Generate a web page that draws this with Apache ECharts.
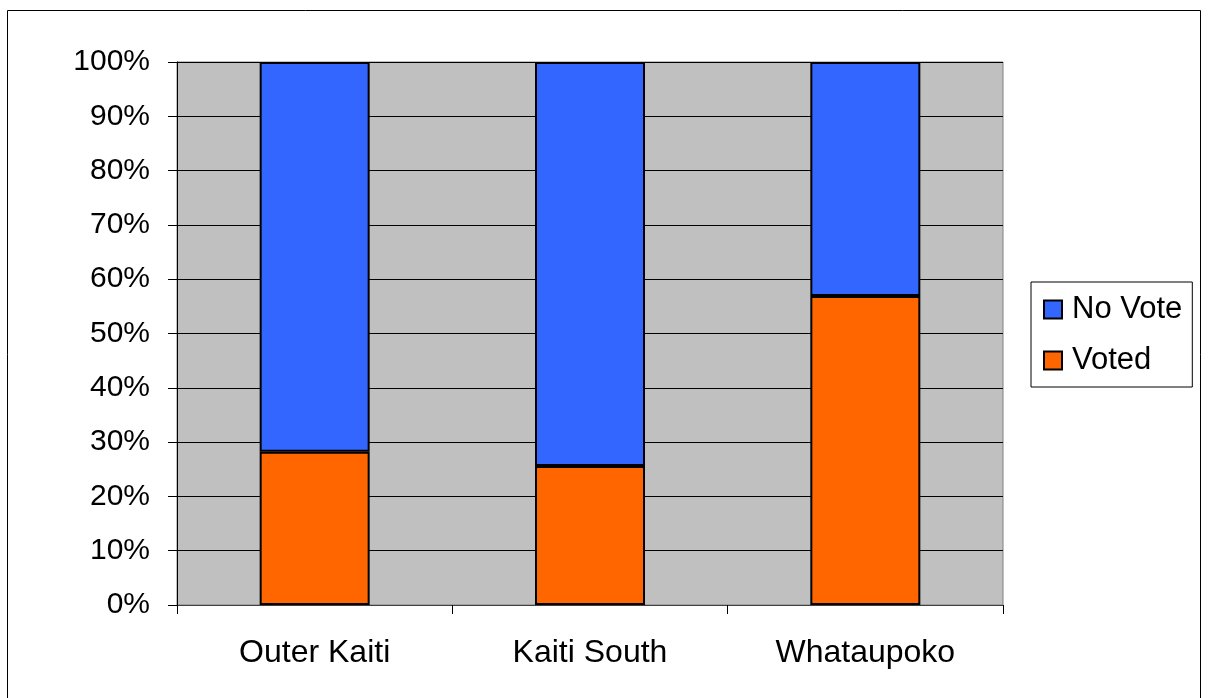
<!DOCTYPE html>
<html><head><meta charset="utf-8">
<script src="https://cdn.jsdelivr.net/npm/echarts@6/dist/echarts.min.js"></script>
<style>html,body{margin:0;padding:0;background:#fff}#c{width:1208px;height:698px}</style>
</head><body><div id="c"></div>
<script>
var categories = ['Outer Kaiti', 'Kaiti South', 'Whataupoko'];
var voted = [28.2, 25.6, 56.9];
var noVote = [71.8, 74.4, 43.1];
var yTicks = [0, 10, 20, 30, 40, 50, 60, 70, 80, 90, 100];

var chart = echarts.init(document.getElementById('c'), null, {renderer: 'canvas'});
var font = '"Liberation Sans", Arial, sans-serif';
chart.setOption({
  animation: false,
  backgroundColor: '#fff',
  graphic: [{
    type: 'rect', shape: {x: 7.5, y: 10.5, width: 1193, height: 700},
    style: {fill: 'none', stroke: '#000', lineWidth: 1}, silent: true, z: 0
  }],
  grid: {left: 177, top: 62, width: 826, height: 543, show: true,
    backgroundColor: '#C0C0C0', borderColor: '#808080', borderWidth: 1},
  legend: {
    orient: 'vertical', left: 1031, top: 282,
    data: ['No Vote', 'Voted'],
    icon: 'rect', itemWidth: 18, itemHeight: 18, itemGap: 20,
    padding: [12, 10, 11, 12],
    borderColor: '#000', borderWidth: 1, backgroundColor: '#fff',
    textStyle: {fontFamily: font, fontSize: 31, color: '#000', padding: [0, 0, 0, 5]}
  },
  xAxis: {
    type: 'category', data: categories,
    axisLine: {lineStyle: {color: '#404040', width: 1}},
    axisTick: {show: true, length: 9, lineStyle: {color: '#000'}},
    axisLabel: {fontFamily: font, fontSize: 32, color: '#000', margin: 32}
  },
  yAxis: {
    type: 'value', min: 0, max: 100, interval: 10,
    axisLine: {show: true, lineStyle: {color: '#000', width: 1}},
    axisTick: {show: true, length: 9, lineStyle: {color: '#000'}},
    splitLine: {show: true, lineStyle: {color: '#000', width: 1}},
    axisLabel: {fontFamily: font, fontSize: 30, color: '#000', margin: 27,
      formatter: function (v) { return v + '%'; }}
  },
  series: [
    {name: 'Voted', type: 'bar', stack: 'a', data: voted, barWidth: 110,
      itemStyle: {color: '#FF6600', borderColor: '#000', borderWidth: 2}},
    {name: 'No Vote', type: 'bar', stack: 'a', data: noVote, barWidth: 110,
      itemStyle: {color: '#3366FF', borderColor: '#000', borderWidth: 2}}
  ]
});
</script></body></html>
